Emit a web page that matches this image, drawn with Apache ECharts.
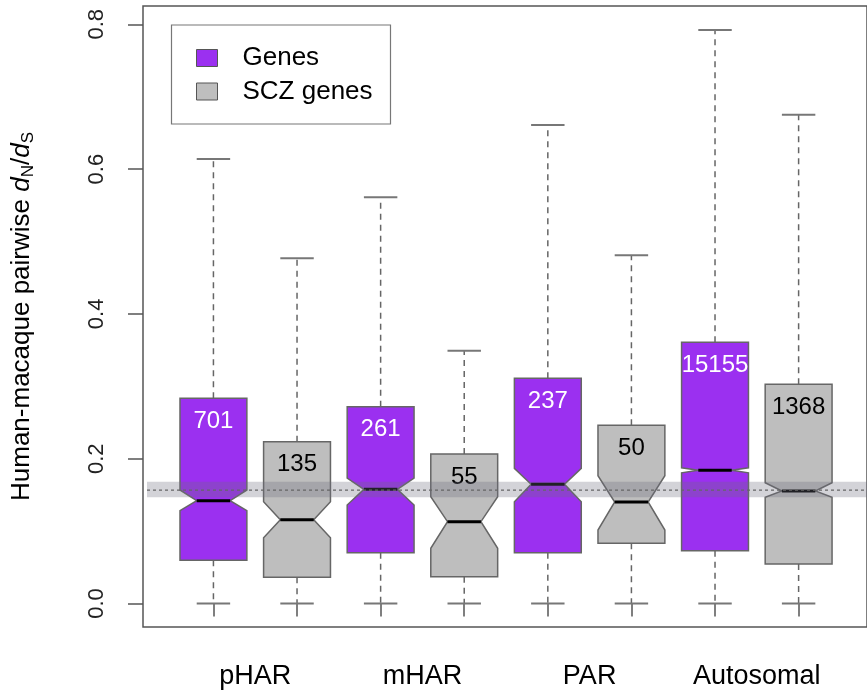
<!DOCTYPE html>
<html>
<head>
<meta charset="utf-8">
<script src="https://cdn.jsdelivr.net/npm/echarts@6/dist/echarts.min.js"></script>
<style>
html,body{margin:0;padding:0;background:#fff;}
#chart{width:867px;height:694px;}
</style>
</head>
<body>
<div id="chart"></div>
<script>
// ---- data ----
const categories = ['pHAR', 'mHAR', 'PAR', 'Autosomal'];
const groupNames = ['Genes', 'SCZ genes'];
const yTicks = [0, 0.2, 0.4, 0.6, 0.8];

// Genes (purple)
const genesN        = [701, 261, 237, 15155];
const genesLow      = [0, 0, 0, 0];
const genesQ1       = [0.0597, 0.0702, 0.0702, 0.0729];
const genesNotchLo  = [0.1282, 0.1360, 0.1406, 0.1805];
const genesMedian   = [0.1420, 0.1577, 0.1646, 0.1840];
const genesNotchHi  = [0.1568, 0.1733, 0.1867, 0.1874];
const genesQ3       = [0.2834, 0.2718, 0.3110, 0.3608];
const genesHigh     = [0.614, 0.561, 0.661, 0.792];

// SCZ genes (grey)
const sczN          = [135, 55, 50, 1368];
const sczLow        = [0, 0, 0, 0];
const sczQ1         = [0.0362, 0.0370, 0.0831, 0.0546];
const sczNotchLo    = [0.0909, 0.0762, 0.1015, 0.1467];
const sczMedian     = [0.1157, 0.1130, 0.1402, 0.1554];
const sczNotchHi    = [0.1406, 0.1475, 0.1765, 0.1669];
const sczQ3         = [0.2235, 0.2065, 0.2461, 0.3028];
const sczHigh       = [0.477, 0.349, 0.481, 0.675];

// reference band (low, high, line)
const bandLow = 0.1467;
const bandHigh = 0.1680;
const bandLine = 0.1565;

// ---- build ----
const FONT = '"Liberation Sans", Arial, Helvetica, sans-serif';
const PURPLE = '#9b30f0';
const GREY = '#bebebe';

function buildData(offset, low, q1, nlo, med, nhi, q3, high, n) {
  return categories.map((c, i) => [i * 2 + 1 + offset, low[i], q1[i], nlo[i], med[i], nhi[i], q3[i], high[i], n[i]]);
}
const genesData = buildData(0, genesLow, genesQ1, genesNotchLo, genesMedian, genesNotchHi, genesQ3, genesHigh, genesN);
const sczData = buildData(1, sczLow, sczQ1, sczNotchLo, sczMedian, sczNotchHi, sczQ3, sczHigh, sczN);

function makeRender(fill, textColor) {
  return function (params, api) {
    const x = api.value(0);
    const low = api.value(1), q1 = api.value(2), nlo = api.value(3), med = api.value(4),
          nhi = api.value(5), q3 = api.value(6), high = api.value(7), n = api.value(8);
    const hw = 0.4, nw = 0.2, cw = 0.2;
    const c = (a, b) => api.coord([a, b]);
    const pts = [
      [x - hw, q3], [x + hw, q3], [x + hw, nhi], [x + nw, med], [x + hw, nlo],
      [x + hw, q1], [x - hw, q1], [x - hw, nlo], [x - nw, med], [x - hw, nhi]
    ].map(p => c(p[0], p[1]));
    const whiskerStyle = { stroke: '#666', lineWidth: 1.5, lineDash: [6, 5] };
    const capStyle = { stroke: '#777', lineWidth: 2 };
    const top = c(x, q3);
    const children = [
      { type: 'line', shape: { x1: c(x, q3)[0], y1: c(x, q3)[1], x2: c(x, high)[0], y2: c(x, high)[1] }, style: whiskerStyle },
      { type: 'line', shape: { x1: c(x, q1)[0], y1: c(x, q1)[1], x2: c(x, low)[0], y2: c(x, low)[1] }, style: whiskerStyle },
      { type: 'line', shape: { x1: c(x - cw, high)[0], y1: c(x, high)[1], x2: c(x + cw, high)[0], y2: c(x, high)[1] }, style: capStyle },
      { type: 'line', shape: { x1: c(x - cw, low)[0], y1: c(x, low)[1], x2: c(x + cw, low)[0], y2: c(x, low)[1] }, style: capStyle },
      { type: 'polygon', shape: { points: pts }, style: { fill: fill, stroke: '#666', lineWidth: 1.5 } },
      { type: 'line', shape: { x1: c(x - nw, med)[0], y1: c(x, med)[1], x2: c(x + nw, med)[0], y2: c(x, med)[1] }, style: { stroke: '#000', lineWidth: 3 } },
      { type: 'text', style: { text: String(n), x: top[0], y: top[1] + 23, align: 'center', verticalAlign: 'middle',
          fill: textColor, fontSize: 24, fontFamily: FONT } }
    ];
    return { type: 'group', children: children };
  };
}

const chart = echarts.init(document.getElementById('chart'), null, { renderer: 'canvas' });

const option = {
  backgroundColor: '#fff',
  animation: false,
  grid: { left: 143, top: 6, right: -11, bottom: 67, show: true, borderColor: '#555', borderWidth: 1.5, containLabel: false },
  legend: {
    data: groupNames,
    orient: 'vertical',
    left: 196, top: 45, padding: 0,
    itemWidth: 21, itemHeight: 17, itemGap: 7.5,
    icon: 'rect',
    selectedMode: false,
    itemStyle: { borderColor: '#555', borderWidth: 1 },
    textStyle: { fontSize: 26, lineHeight: 26, color: '#000', fontFamily: FONT, padding: [0, 0, 0, 20] }
  },
  graphic: [
    { type: 'rect', shape: { x: 171.5, y: 25, width: 219, height: 99 }, style: { fill: 'none', stroke: '#777', lineWidth: 1.2 }, z: 100 }
  ],
  xAxis: {
    type: 'value', min: 0.1575, max: 8.818,
    axisLine: { show: false },
    splitLine: { show: false },
    axisTick: { show: true, customValues: [1, 2, 3, 4, 5, 6, 7, 8], length: 13, lineStyle: { color: '#555', width: 1.5 } },
    axisLabel: {
      customValues: [1.5, 3.5, 5.5, 7.5],
      formatter: v => categories[Math.round((v - 1.5) / 2)],
      fontSize: 27, lineHeight: 28, color: '#000', fontFamily: FONT, margin: 36
    }
  },
  yAxis: {
    type: 'value', min: -0.03246, max: 0.8253,
    axisLine: { show: false },
    splitLine: { show: false },
    axisTick: { show: true, customValues: yTicks, length: 15, lineStyle: { color: '#555', width: 1.5 } },
    axisLabel: {
      customValues: yTicks,
      formatter: v => v.toFixed(1),
      rotate: 90, fontSize: 22, color: '#222', fontFamily: FONT, margin: 35
    },
    name: '{n|Human-macaque pairwise }{i|d}{s|N}{n|/}{i|d}{s|S}',
    nameLocation: 'middle',
    nameRotate: 90,
    nameGap: 106,
    nameTextStyle: {
      color: '#000', fontFamily: FONT,
      rich: {
        n: { fontSize: 26, lineHeight: 30, fontFamily: FONT, color: '#000', verticalAlign: 'middle' },
        i: { fontSize: 26, lineHeight: 30, fontFamily: FONT, color: '#000', fontStyle: 'italic', verticalAlign: 'middle' },
        s: { fontSize: 17, lineHeight: 17, fontFamily: FONT, color: '#000', verticalAlign: 'bottom' }
      }
    }
  },
  series: [
    {
      name: 'Genes', type: 'custom',
      itemStyle: { color: PURPLE, borderColor: '#555', borderWidth: 1 },
      encode: { x: 0, y: [1, 2, 3, 4, 5, 6, 7] },
      renderItem: makeRender(PURPLE, '#fff'),
      data: genesData, z: 2
    },
    {
      name: 'SCZ genes', type: 'custom',
      itemStyle: { color: GREY, borderColor: '#555', borderWidth: 1 },
      encode: { x: 0, y: [1, 2, 3, 4, 5, 6, 7] },
      renderItem: makeRender(GREY, '#000'),
      data: sczData, z: 2
    },
    {
      name: 'band', type: 'custom', silent: true, z: 10,
      encode: { x: 0, y: [1, 2, 3] },
      data: [[1, bandLow, bandHigh, bandLine]],
      renderItem: function (params, api) {
        const cs = params.coordSys;
        const yl = api.coord([1, api.value(1)])[1];
        const yh = api.coord([1, api.value(2)])[1];
        const ym = api.coord([1, api.value(3)])[1];
        const x0 = cs.x + 4, x1 = cs.x + cs.width;
        return {
          type: 'group', children: [
            { type: 'rect', shape: { x: x0, y: yh, width: x1 - x0, height: yl - yh }, style: { fill: 'rgba(110,110,125,0.3)' } },
            { type: 'line', shape: { x1: x0, y1: ym, x2: x1, y2: ym }, style: { stroke: '#666', lineWidth: 1.3, lineDash: [3, 3] } }
          ]
        };
      }
    }
  ]
};
chart.setOption(option);
</script>
</body>
</html>
